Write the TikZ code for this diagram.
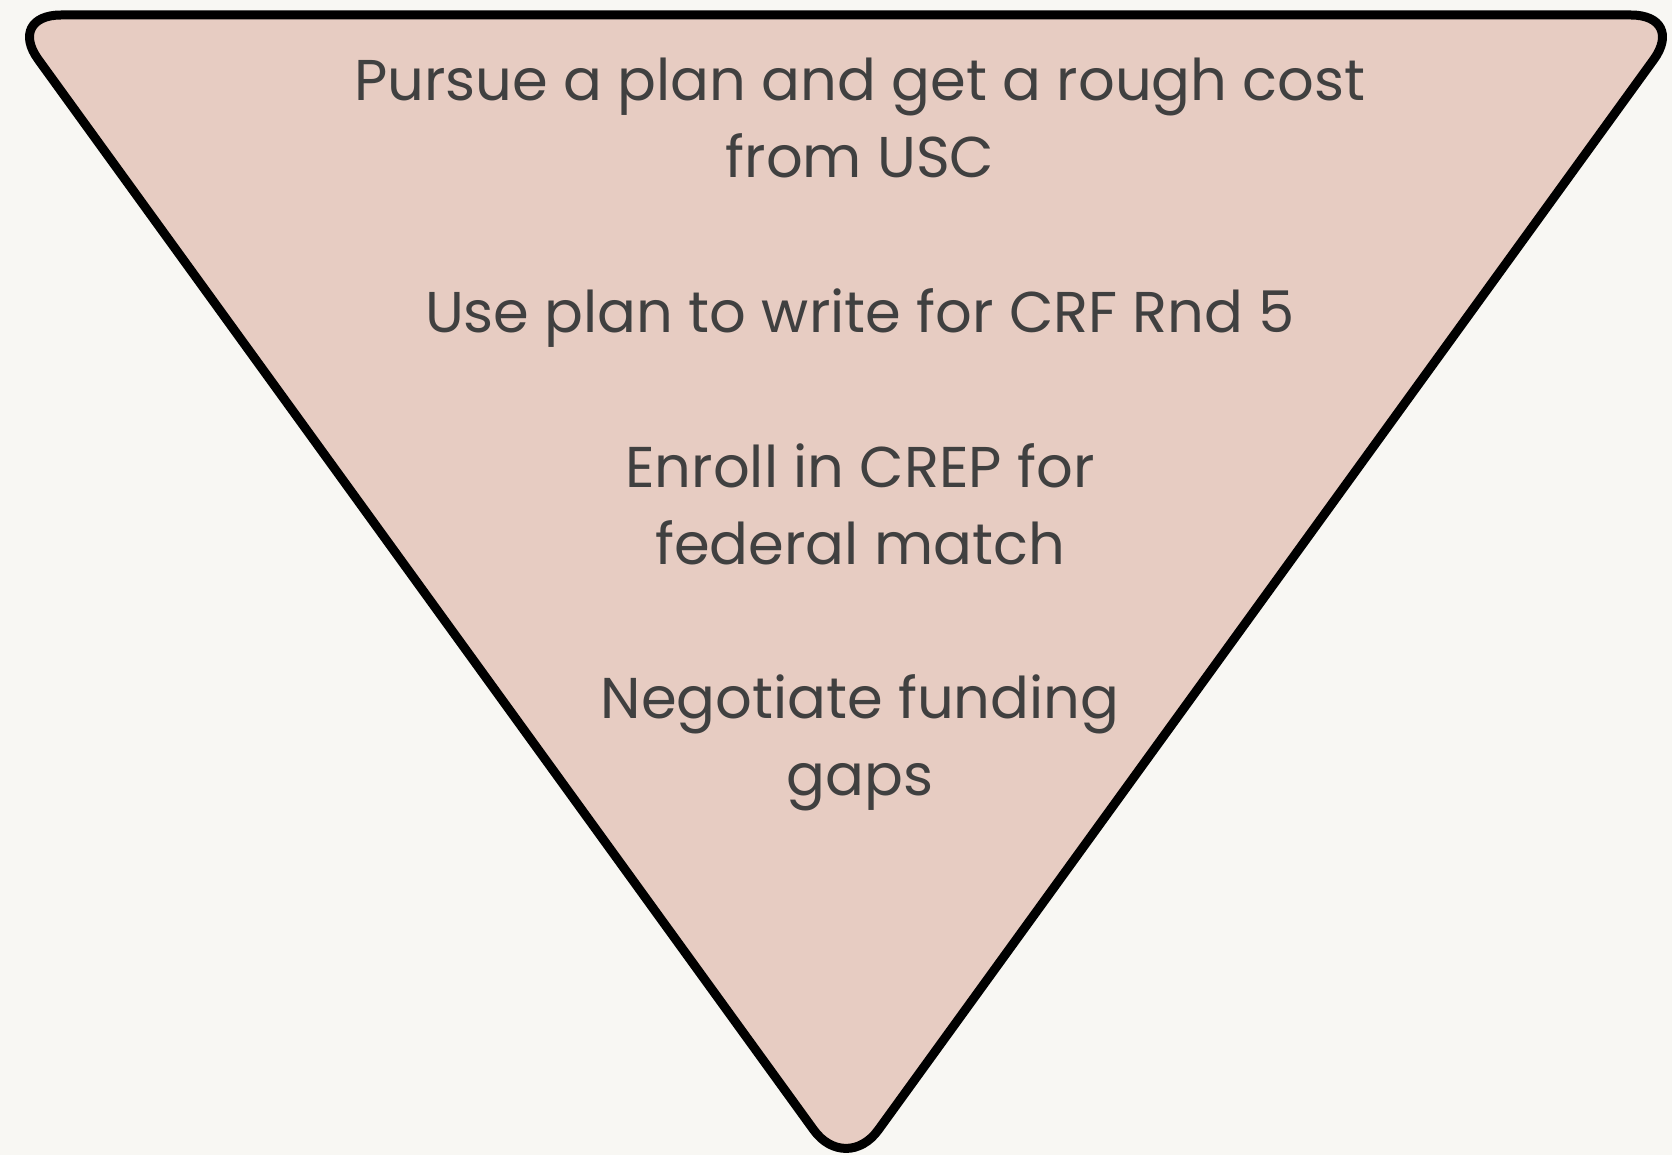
\documentclass[tikz,border=0pt]{standalone}
\usepackage{fontspec}
\setmainfont{Poppins}
\definecolor{bgc}{HTML}{F8F7F3}
\definecolor{tri}{HTML}{E7CCC2}
\definecolor{txt}{HTML}{404040}
\begin{document}
\begin{tikzpicture}[x=1pt,y=-1pt,
  lbl/.style={anchor=base,inner sep=0pt,text=txt,font=\fontsize{57.5}{77}\selectfont}]
\useasboundingbox[fill=bgc] (0,0) rectangle (1672,1155);
\draw[fill=tri,draw=black,line width=9pt,rounded corners=55pt,line join=round]
  (846,15) -- (1686,15) -- (846,1174.5) -- (6,15) -- cycle;
\node[lbl] (l1) at (860,101) {Pursue a plan and get a rough cost};
\node[lbl] (l2) at (860,178) {from USC};
\node[lbl] (l3) at (860,332) {Use plan to write for CRF Rnd 5};
\node[lbl] (l4) at (860,487) {Enroll in CREP for};
\node[lbl] (l5) at (860,564) {federal match};
\node[lbl] (l6) at (860,718) {Negotiate funding};
\node[lbl] (l7) at (860,795) {gaps};
\end{tikzpicture}
\end{document}
